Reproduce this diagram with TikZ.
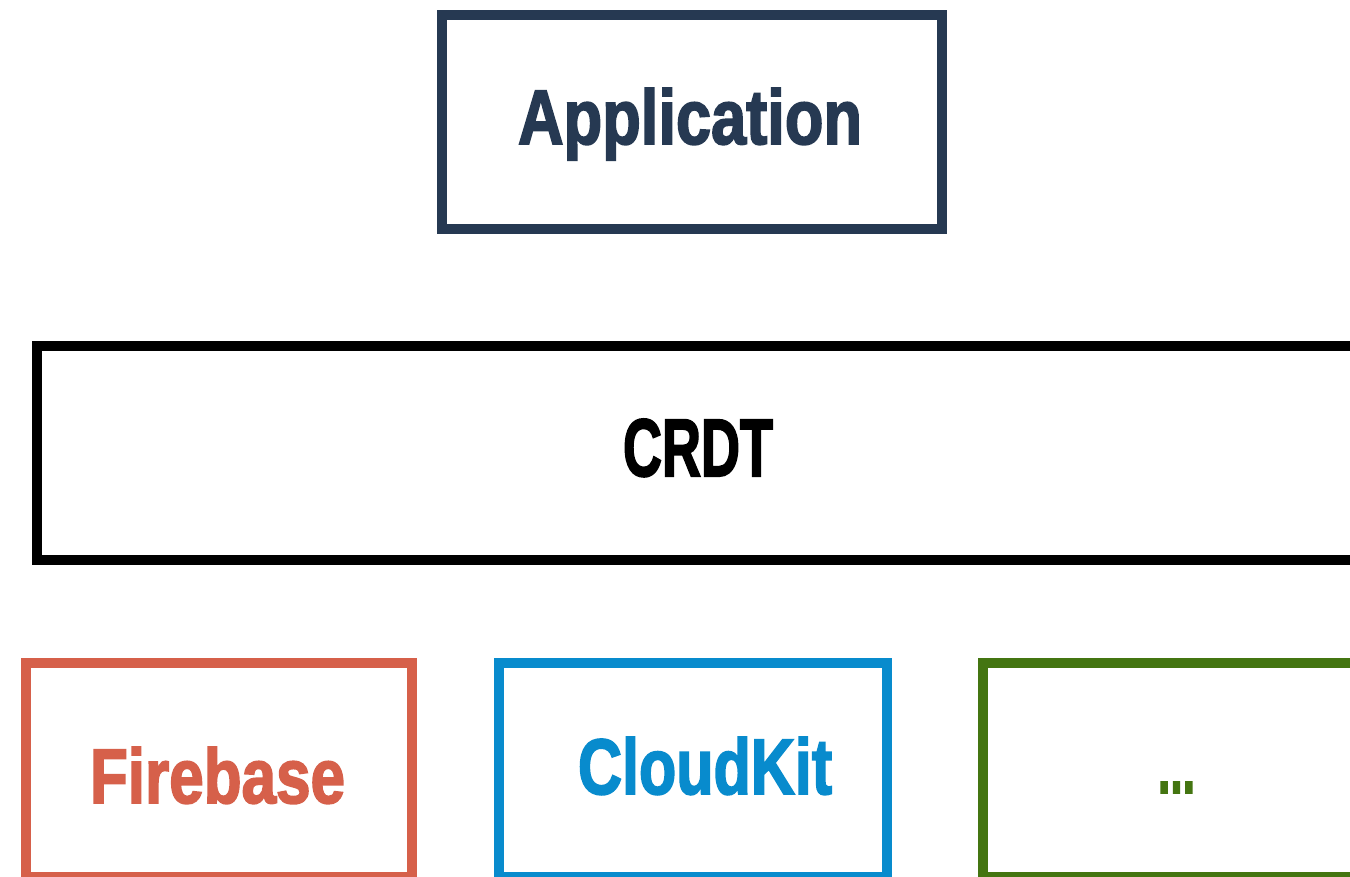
\documentclass[tikz,border=0pt]{standalone}
\usepackage{fontspec}
\setmainfont{Liberation Sans}
\newfontfamily\heavyfont[FakeBold=2.5]{Liberation Sans Bold}
\usepackage{graphicx}
\definecolor{navy}{HTML}{263952}
\definecolor{coral}{HTML}{D6604A}
\definecolor{skyblue}{HTML}{088BCD}
\definecolor{leaf}{HTML}{447511}
\tikzset{
  layerbox/.style={draw, rectangle, line width=10pt, inner sep=0pt, fill=none},
  lbl/.style={anchor=base west, inner sep=0pt, outer sep=0pt, font=\heavyfont},
}
\begin{document}
\begin{tikzpicture}[x=1pt,y=-1pt]
\useasboundingbox (0,0) rectangle (1350,876);
\clip (0,0) rectangle (1350,876);
\fill[white] (0,0) rectangle (1350,876);
% boxes
\node[layerbox, draw=navy, minimum width=500pt, minimum height=214pt] (app) at (692,122) {};
\node[layerbox, draw=black, minimum width=1340pt, minimum height=214pt] (crdt) at (707,453) {};
\node[layerbox, draw=coral, minimum width=386pt, minimum height=214pt] (fire) at (219,770) {};
\node[layerbox, draw=skyblue, minimum width=388pt, minimum height=214pt] (cloud) at (693,770) {};
\node[layerbox, draw=leaf, minimum width=400pt, minimum height=214pt] (more) at (1183,770) {};
% labels
\node[lbl, text=navy] (apptxt) at (518,144) {\resizebox{344pt}{56pt}{Application}};
\node[lbl, text=black] (crdttxt) at (623,476) {\resizebox{150pt}{57pt}{CRDT}};
\node[lbl, text=coral] (firetxt) at (90,803) {\resizebox{255pt}{56pt}{Firebase}};
\node[lbl, text=skyblue] (cloudtxt) at (578,794) {\resizebox{254pt}{57pt}{CloudKit}};
\node[lbl, text=leaf] (moretxt) at (1158,793) {\resizebox{37pt}{11pt}{...}};
\end{tikzpicture}
\end{document}
